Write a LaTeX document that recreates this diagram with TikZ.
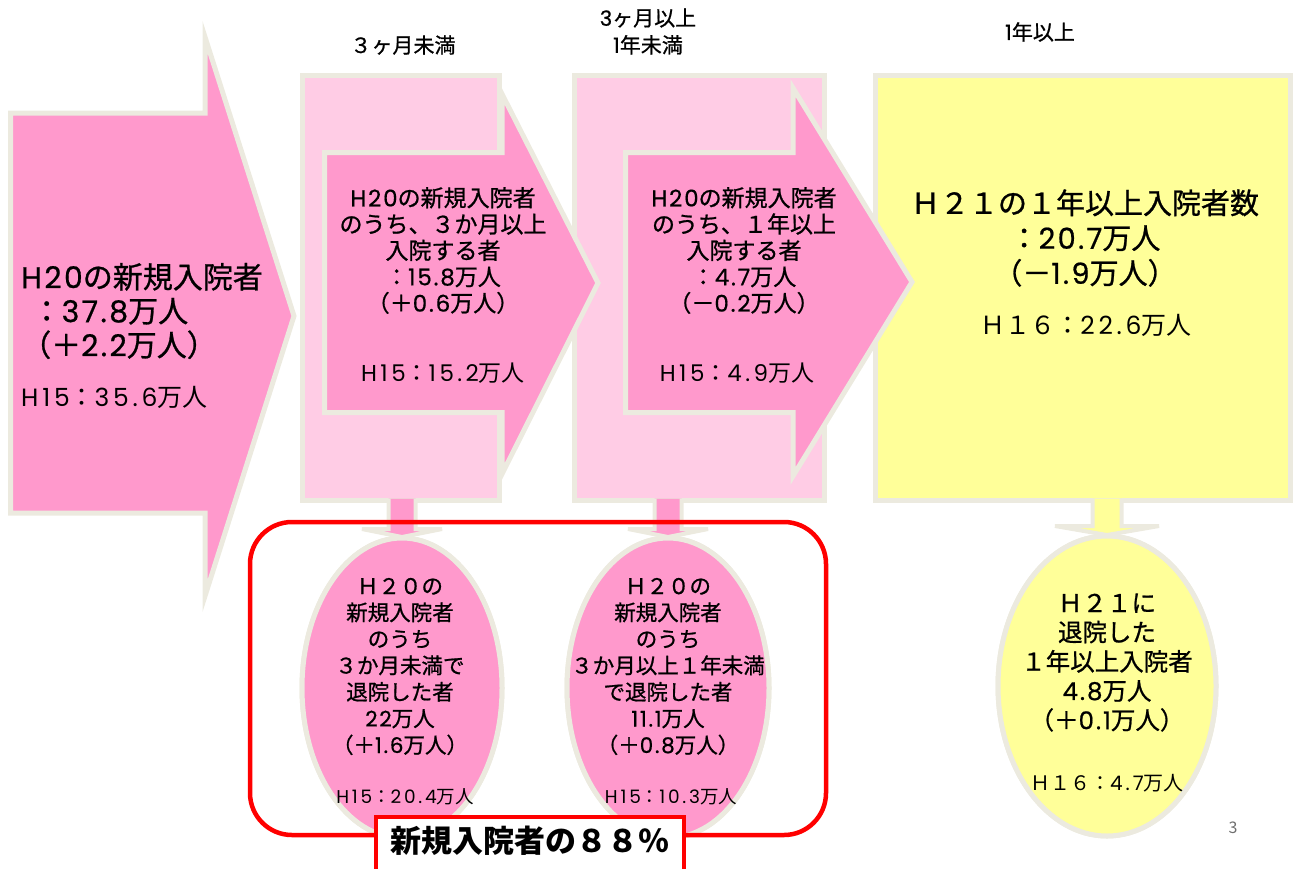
\documentclass[tikz,border=0pt]{standalone}
\usepackage{fontspec}
\newfontfamily\cjk{Noto Sans CJK JP}
\newfontfamily\cjkm[FakeBold=0.9]{Noto Sans CJK JP}
\newfontfamily\latl[LetterSpace=15]{Poppins}
\newfontfamily\latm[FakeBold=0.6,LetterSpace=8]{Poppins}
\newcommand\LA[1]{{\latl #1}}
\newcommand\LB[1]{{\latm #1}}
\usetikzlibrary{calc,shapes.geometric}
\definecolor{pinkD}{RGB}{255,153,204}
\definecolor{pinkL}{RGB}{255,204,229}
\definecolor{yel}{RGB}{255,255,153}
\definecolor{beige}{RGB}{236,234,223}
\definecolor{redA}{RGB}{255,0,0}
\definecolor{pgray}{RGB}{110,110,110}
\begin{document}
\begin{tikzpicture}[x=1pt,y=-1pt,
  shell/.style={draw=beige, line width=5pt, line join=miter},
  boxst/.style={shell, inner sep=0pt, outer sep=0pt, anchor=north west},
  stubst/.style={draw=beige, line width=4pt, line join=miter},
  ellst/.style={ellipse, shell, inner sep=0pt, outer sep=0pt},
  txt/.style={inner sep=0pt, align=center, text=black},
  fA/.style={font=\cjkm\fontsize{30}{34}\selectfont},
  fB/.style={font=\cjkm\fontsize{23}{26.3}\selectfont},
  fC/.style={font=\cjkm\fontsize{21.5}{26.5}\selectfont},
  fD/.style={font=\cjkm\fontsize{24.5}{29.3}\selectfont},
  fY/.style={font=\cjkm\fontsize{29}{35}\selectfont},
  fs25/.style={font=\cjk\fontsize{25}{28}\selectfont},
  fs23/.style={font=\cjk\fontsize{23}{26}\selectfont},
  fs20/.style={font=\cjk\fontsize{20}{24}\selectfont},
  fs18/.style={font=\cjk\fontsize{18.5}{20}\selectfont},
  ftop/.style={font=\cjkm\fontsize{21}{27}\selectfont},
]
\useasboundingbox (0,0) rectangle (1297,868);

% background boxes
\node[boxst, fill=pinkL, minimum width=197pt, minimum height=425pt] (r2) at (302.5,75.5) {};
\node[boxst, fill=pinkL, minimum width=250pt, minimum height=425pt] (r3) at (574.5,75.5) {};
\node[boxst, fill=yel, minimum width=415pt, minimum height=425pt] (r4) at (875.5,75.5) {};

% block arrows
\draw[shell, fill=pinkD] (10.5,113) -- (205,113) -- (205,37) -- (294,316) -- (205,596) -- (205,513) -- (10.5,513) -- cycle;
\draw[shell, fill=pinkD] (324.5,152.5) -- (502,152.5) -- (502,94) -- (598,283) -- (502,474) -- (502,412.5) -- (324.5,412.5) -- cycle;
\draw[shell, fill=pinkD] (625.5,152.5) -- (793,152.5) -- (793,88) -- (912,282) -- (793,476) -- (793,412.5) -- (625.5,412.5) -- cycle;

% ellipses
\node[ellst, fill=pinkD, minimum width=200pt, minimum height=300pt] (e1) at (402,688) {};
\node[ellst, fill=pinkD, minimum width=202pt, minimum height=300pt] (e2) at (668,688) {};
\node[ellst, fill=yel, minimum width=218pt, minimum height=300pt] (e3) at (1107,686) {};

% stubs (connectors)
\coordinate (s1) at (e1.north |- r2.south);
\coordinate (s2) at (e2.north |- r3.south);
\coordinate (s3) at (e3.north |- r4.south);
\draw[stubst, fill=pinkD] ($(s1)+(-13.5,-2)$) -- ($(e1.north)+(-13.5,-9)$) -- ($(e1.north)+(-40,-9)$) -- ($(e1.north)+(0,-1)$) -- ($(e1.north)+(40,-9)$) -- ($(e1.north)+(13.5,-9)$) -- ($(s1)+(13.5,-2)$);
\draw[stubst, fill=pinkD] ($(s2)+(-13.5,-2)$) -- ($(e2.north)+(-13.5,-9)$) -- ($(e2.north)+(-40,-9)$) -- ($(e2.north)+(0,-1)$) -- ($(e2.north)+(40,-9)$) -- ($(e2.north)+(13.5,-9)$) -- ($(s2)+(13.5,-2)$);
\draw[stubst, fill=yel] ($(s3)+(-14.5,-2)$) -- ($(e3.north)+(-14.5,-10)$) -- ($(e3.north)+(-52,-10)$) -- ($(e3.north)+(0,-1)$) -- ($(e3.north)+(52,-10)$) -- ($(e3.north)+(14.5,-10)$) -- ($(s3)+(14.5,-2)$);
% redraw ellipses over stub heads
\node[ellst, fill=pinkD, minimum width=200pt, minimum height=300pt] at (e1.center) {};
\node[ellst, fill=pinkD, minimum width=202pt, minimum height=300pt] at (e2.center) {};
\node[ellst, fill=yel, minimum width=218pt, minimum height=300pt] at (e3.center) {};

% red group frame and label
\node[draw=redA, line width=4.5pt, rounded corners=42pt, minimum width=576pt, minimum height=313pt, inner sep=0pt] (grp) at (538,678.5) {};
\node[draw=redA, fill=white, line width=4pt, minimum width=308pt, minimum height=62pt, inner sep=0pt, anchor=north] (lab) at (530,815) {};
\node[txt, font=\cjk\bfseries\fontsize{31}{34}\selectfont] (labt) at (lab.center |- 0,841) {新規入院者の８８％};

% top labels
\node[txt, ftop] (t1) at (403,45) {３ヶ月未満};
\node[txt, ftop] (t2) at (648,31.5) {\LB{3}ヶ月以上\\\LB{1}年未満};
\node[txt, ftop] (t3) at (1040,32) {\LB{1}年以上};

% arrow texts
\node[txt, fA, align=left, anchor=west] (a1t) at (21,311) {\LB{H20}の新規入院者\\\hspace{0.35em}：\LB{37.8}万人\\（＋\LB{2.2}万人）};
\node[txt, fs25, anchor=west] (a1h) at (21,397) {\LA{H15}：\LA{35.6}万人};
\node[txt, fB] (a2t) at (443,250.5) {\LB{H20}の新規入院者\\のうち、３か月以上\\入院する者\\：\LB{15.8}万人\\（＋\LB{0.6}万人）};
\node[txt, fs23] (a2h) at (443,373) {\LA{H15}：\LA{15.2}万人};
\node[txt, fB] (a3t) at (744,250.5) {\LB{H20}の新規入院者\\のうち、１年以上\\入院する者\\：\LB{4.7}万人\\（－\LB{0.2}万人）};
\node[txt, fs23] (a3h) at (737,373) {\LA{H15}：\LA{4.9}万人};
\node[txt, fY] (yt) at (1085,238) {Ｈ２１の１年以上入院者数\\：\LB{20.7}万人\\（－\LB{1.9}万人）};
\node[txt, fs25] (yh) at (1086,325) {Ｈ１６：\LA{22.6}万人};

% ellipse texts
\node[txt, fC] (e1t) at (400,666.5) {Ｈ２０の\\新規入院者\\のうち\\３か月未満で\\退院した者\\\LB{22}万人\\（＋\LB{1.6}万人）};
\node[txt, fs18] (e1h) at (405,797) {\LA{H15}：\LA{20.4}万人};
\node[txt, fC] (e2t) at (668,666.5) {Ｈ２０の\\新規入院者\\のうち\\３か月以上１年未満\\で退院した者\\\LB{11.1}万人\\（＋\LB{0.8}万人）};
\node[txt, fs18] (e2h) at (671,797) {\LA{H15}：\LA{10.3}万人};
\node[txt, fD] (e3t) at (1107,662.5) {Ｈ２１に\\退院した\\１年以上入院者\\\LB{4.8}万人\\（＋\LB{0.1}万人）};
\node[txt, fs20] (e3h) at (1107,783) {Ｈ１６：\LA{4.7}万人};

% page number
\node[txt, text=pgray, font=\cjk\fontsize{16}{18}\selectfont] (pg) at (1233,828) {3};
\end{tikzpicture}
\end{document}
